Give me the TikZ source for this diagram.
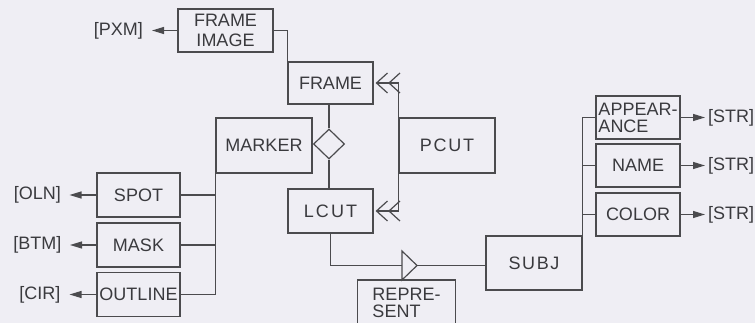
\documentclass[tikz,border=0pt]{standalone}
\usepackage{fontspec}
\setmainfont{Liberation Sans}
\usetikzlibrary{arrows.meta,shapes.geometric}
\definecolor{bg}{RGB}{239,238,244}
\definecolor{ln}{RGB}{75,75,78}
\definecolor{tx}{RGB}{58,58,62}
\begin{document}
\begin{tikzpicture}[x=1pt,y=-1pt,
  box/.style={draw=ln,line width=1.2pt,text=tx,inner sep=0pt,font=\fontsize{18}{17}\selectfont,align=center},
  lbl/.style={text=tx,inner sep=0pt,font=\fontsize{18}{17}\selectfont},
  con/.style={draw=ln,line width=1.2pt},
  arr/.style={con,-{Triangle[length=12pt,width=7pt]}},
  crow/.style={con,shorten >=2pt,-{Straight Barb[length=11pt,width=20pt,line width=1.2pt]Straight Barb[length=11pt,width=20pt,line width=1.2pt]}},
]
\useasboundingbox (0,0) rectangle (755,323);
\fill[bg] (0,0) rectangle (755,323);
\clip (0,0) rectangle (755,323);

% entity boxes
\node[box,minimum width=95pt,minimum height=43pt] (fi) at (225.5,30.5) {FRAME\\[2.5pt]IMAGE};
\node[box,minimum width=85pt,minimum height=42pt] (frame) at (330.5,83) {FRAME};
\node[box,minimum width=96pt,minimum height=55pt] (marker) at (264,145.5) {MARKER};
\node[box,minimum width=96pt,minimum height=55pt] (pcut) at (447,145.5) {\addfontfeature{LetterSpace=10}PCUT};
\node[box,minimum width=85pt,minimum height=44pt] (lcut) at (330.5,211) {\addfontfeature{LetterSpace=12}LCUT};
\node[box,minimum width=96pt,minimum height=54pt] (subj) at (534,263) {\addfontfeature{LetterSpace=9}SUBJ};
\node[box,draw=none,align=left,minimum width=97pt,minimum height=62pt] (rep) at (406.5,311.5) {REPRE-\\SENT\\\mbox{}};
\draw[con] (rep.south west) -- (rep.north west) -- (rep.north east) -- (rep.south east);

\node[box,align=left,minimum width=84pt,minimum height=43pt] (app) at (638,117.5) {APPEAR-\\ANCE};
\node[box,minimum width=84pt,minimum height=43pt] (name) at (638,165.5) {NAME};
\node[box,minimum width=84pt,minimum height=43pt] (color) at (638,214.5) {COLOR};

\node[box,minimum width=83pt,minimum height=44pt] (spot) at (138.5,195) {SPOT};
\node[box,minimum width=83pt,minimum height=44pt] (mask) at (138.5,245) {MASK};
\node[box,minimum width=83pt,minimum height=44pt] (outline) at (138.5,294.5) {OUTLINE};

% relationship symbols
\node[draw=ln,line width=1.2pt,diamond,minimum width=31pt,minimum height=30pt,inner sep=0pt] (rel) at (329,144) {};
\coordinate (tl) at (402,251);
\coordinate (tb) at (402,280);
\coordinate (tip) at (417,265.5);
\coordinate (tmid) at (402,265.5);
\draw[con,line join=miter] (tl) -- (tip) -- (tb) -- cycle;

% type labels
\node[lbl,anchor=east] (pxm) at (143,30.5) {[PXM]};
\node[lbl,anchor=east] (oln) at (61,195) {[OLN]};
\node[lbl,anchor=east] (btm) at (61.5,245) {[BTM]};
\node[lbl,anchor=east] (cir) at (60.5,294.5) {[CIR]};
\node[lbl,anchor=west] (s1) at (708,117.5) {[STR]};
\node[lbl,anchor=west] (s2) at (708,165.5) {[STR]};
\node[lbl,anchor=west] (s3) at (708,214.5) {[STR]};

% connectors
\draw[con] (fi.east) -| (frame.north west);
\draw[con] (rel.north) -- (rel.north |- frame.south);
\draw[con] (rel.south) -- (rel.south |- lcut.north);
\draw[crow] (pcut.north west) |- (frame.east);
\draw[crow] (pcut.south west) |- (lcut.east);
\draw[con] (lcut.south) |- (tmid);
\draw[con] (tip) -- (tip -| subj.west);

\draw[con] (marker.south west) |- (outline.east);
\draw[con] (spot.east) -- (spot.east -| marker.west);
\draw[con] (mask.east) -- (mask.east -| marker.west);

\draw[con] (subj.north east) |- (app.west);
\draw[con] (name.west) -- (name.west -| subj.east);
\draw[con] (color.west) -- (color.west -| subj.east);

\draw[arr] (fi.west) -- ([xshift=9pt]pxm.east);
\draw[arr] (spot.west) -- ([xshift=8.5pt]oln.east);
\draw[arr] (mask.west) -- ([xshift=8.5pt]btm.east);
\draw[arr] (outline.west) -- ([xshift=9pt]cir.east);
\draw[arr] (app.east) -- ([xshift=-3pt]s1.west);
\draw[arr] (name.east) -- ([xshift=-3pt]s2.west);
\draw[arr] (color.east) -- ([xshift=-3pt]s3.west);
\end{tikzpicture}
\end{document}
